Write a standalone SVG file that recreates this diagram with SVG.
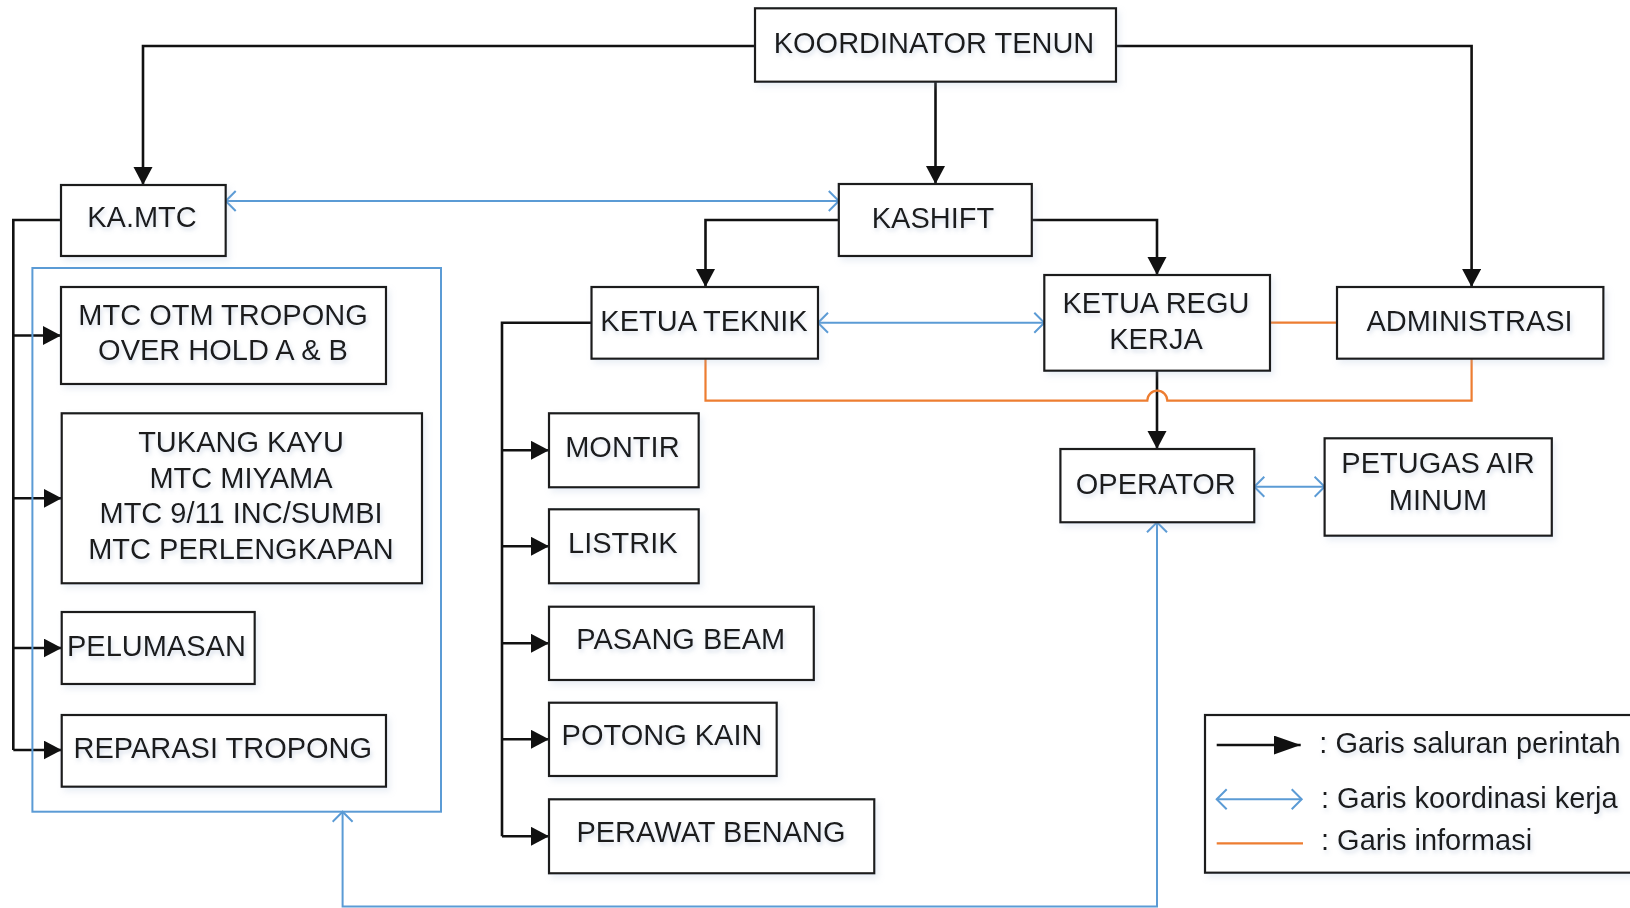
<svg xmlns="http://www.w3.org/2000/svg" width="1630" height="908" viewBox="0 0 1630 908">
<style>
.box{fill:#fff;stroke:#1a1a1a;stroke-width:2.2;filter:url(#bsh)}
.t{font-family:"Liberation Sans",Arial,sans-serif;font-size:29px;fill:#1a1a1a;text-anchor:middle;filter:url(#tsh)}
.lg{font-family:"Liberation Sans",Arial,sans-serif;font-size:29px;fill:#1a1a1a;filter:url(#tsh)}
.cmd{fill:none;stroke:#111;stroke-width:2.6;marker-end:url(#ah)}
.cmdn{fill:none;stroke:#111;stroke-width:2.6}
.co{fill:none;stroke:#5b9bd5;stroke-width:2;marker-start:url(#ch);marker-end:url(#ch)}
.inf{fill:none;stroke:#ed7d31;stroke-width:2.2}
</style>
<defs>
<filter id="tsh" x="-10%" y="-30%" width="120%" height="160%">
<feDropShadow dx="1.5" dy="3" stdDeviation="2" flood-color="#8aa0c0" flood-opacity="0.35"/>
</filter>
<filter id="bsh" x="-5%" y="-5%" width="115%" height="120%">
<feDropShadow dx="3" dy="4" stdDeviation="3" flood-color="#9ab0d0" flood-opacity="0.2"/>
</filter>
<marker id="ah" markerUnits="userSpaceOnUse" markerWidth="20" markerHeight="20" refX="18" refY="9.5" orient="auto">
<path d="M0,0 L18,9.5 L0,19 z" fill="#111"/>
</marker>
<marker id="ahl" markerUnits="userSpaceOnUse" markerWidth="28" markerHeight="20" refX="27" refY="9.5" orient="auto">
<path d="M0,0 L27,9.5 L0,19 z" fill="#111"/>
</marker>
<marker id="ch" markerUnits="userSpaceOnUse" markerWidth="14" markerHeight="24" refX="11" refY="11" orient="auto-start-reverse">
<path d="M1,1 L11,11 L1,21" fill="none" stroke="#5b9bd5" stroke-width="2"/>
</marker>
</defs>

<g id="connectors">
<!-- command lines -->
<path class="cmd" d="M755,46 H143 V185"/>
<path class="cmd" d="M935.5,81.7 V184"/>
<path class="cmd" d="M1115.7,46 H1471.6 V287"/>
<path class="cmd" d="M838.8,220 H705.5 V287"/>
<path class="cmd" d="M1031.8,220 H1157 V275"/>
<path class="cmd" d="M1157,370.7 V449"/>
<path class="cmdn" d="M61,220 H13.3 V750"/>
<path class="cmd" d="M13.3,335.5 H61"/>
<path class="cmd" d="M13.3,498.3 H61.7"/>
<path class="cmd" d="M13.3,648 H61.7"/>
<path class="cmd" d="M13.3,750 H61.7"/>
<path class="cmdn" d="M591.5,322.7 H502 V836.3"/>
<path class="cmd" d="M502,450.3 H549"/>
<path class="cmd" d="M502,546.3 H549"/>
<path class="cmd" d="M502,643.3 H549"/>
<path class="cmd" d="M502,739.3 H549"/>
<path class="cmd" d="M502,836.3 H549"/>
<!-- coordination lines -->
<path class="co" d="M225.7,201 H838.8"/>
<path class="co" d="M818,322.7 H1044.3"/>
<path class="co" d="M1254.3,486.7 H1324.6"/>
<path class="co" d="M342.6,811.7 V906.5 H1157 V522.3"/>
<!-- information lines -->
<path class="inf" d="M1270,322.7 H1337"/>
<path class="inf" d="M705.5,358.7 V400.7 H1147.3 A10,10 0 0 1 1167.3,400.7 H1471.6 V358.7"/>
</g>

<rect id="mtc-group" x="32.4" y="268" width="408.6" height="543.7" fill="none" stroke="#5b9bd5" stroke-width="2"/>

<g id="koordinator-tenun"><rect class="box" x="755" y="8.3" width="361" height="73.4"/><text class="t" x="934" y="53.3">KOORDINATOR TENUN</text></g>
<g id="ka-mtc"><rect class="box" x="61" y="185" width="164.7" height="71"/><text class="t" x="142" y="227.3">KA.MTC</text></g>
<g id="kashift"><rect class="box" x="838.8" y="184" width="193" height="72"/><text class="t" x="933" y="227.5">KASHIFT</text></g>
<g id="ketua-teknik"><rect class="box" x="591.5" y="287" width="226.5" height="71.7"/><text class="t" x="704" y="330.5">KETUA TEKNIK</text></g>
<g id="ketua-regu-kerja"><rect class="box" x="1044.3" y="275" width="225.7" height="95.7"/><text class="t" x="1156" y="313.3">KETUA REGU</text><text class="t" x="1156" y="349.3">KERJA</text></g>
<g id="administrasi"><rect class="box" x="1337" y="287" width="266.4" height="71.7"/><text class="t" x="1469.5" y="330.5">ADMINISTRASI</text></g>
<g id="mtc-otm-tropong"><rect class="box" x="61" y="287" width="325" height="97"/><text class="t" x="223" y="325">MTC OTM TROPONG</text><text class="t" x="223" y="360">OVER HOLD A &amp; B</text></g>
<g id="tukang-kayu"><rect class="box" x="61.7" y="413.3" width="360.3" height="170"/><text class="t" x="241" y="451.7">TUKANG KAYU</text><text class="t" x="241" y="487.5">MTC MIYAMA</text><text class="t" x="241" y="523.3">MTC 9/11 INC/SUMBI</text><text class="t" x="241" y="559">MTC PERLENGKAPAN</text></g>
<g id="pelumasan"><rect class="box" x="61.7" y="612" width="193" height="72"/><text class="t" x="156.4" y="656">PELUMASAN</text></g>
<g id="reparasi-tropong"><rect class="box" x="61.7" y="715" width="324.3" height="71.7"/><text class="t" x="222.8" y="758.3">REPARASI TROPONG</text></g>
<g id="montir"><rect class="box" x="549" y="413.3" width="149.7" height="74"/><text class="t" x="622.4" y="456.7">MONTIR</text></g>
<g id="listrik"><rect class="box" x="549" y="509.3" width="149.7" height="74"/><text class="t" x="622.9" y="552.7">LISTRIK</text></g>
<g id="pasang-beam"><rect class="box" x="549" y="606.7" width="264.8" height="73.3"/><text class="t" x="680.7" y="649.3">PASANG BEAM</text></g>
<g id="potong-kain"><rect class="box" x="549" y="702.7" width="227.7" height="73.3"/><text class="t" x="662" y="745">POTONG KAIN</text></g>
<g id="perawat-benang"><rect class="box" x="549" y="799.3" width="325.3" height="74"/><text class="t" x="711" y="841.7">PERAWAT BENANG</text></g>
<g id="operator"><rect class="box" x="1060.4" y="449" width="193.9" height="73.3"/><text class="t" x="1155.8" y="494">OPERATOR</text></g>
<g id="petugas-air-minum"><rect class="box" x="1324.6" y="438.3" width="227.2" height="97.4"/><text class="t" x="1438" y="473.3">PETUGAS AIR</text><text class="t" x="1438" y="510">MINUM</text></g>

<g id="legend">
<rect class="box" x="1205" y="715" width="440" height="157.7"/>
<path d="M1216.7,745 H1300.7" fill="none" stroke="#111" stroke-width="2.6" marker-end="url(#ahl)"/>
<path d="M1216.7,799.3 H1301.7" class="co"/>
<path d="M1216.7,843.3 H1303" class="inf"/>
<text class="lg" x="1319.3" y="753.3">: Garis saluran perintah</text>
<text class="lg" x="1321" y="808.3">: Garis koordinasi kerja</text>
<text class="lg" x="1321" y="850">: Garis informasi</text>
</g>
</svg>
